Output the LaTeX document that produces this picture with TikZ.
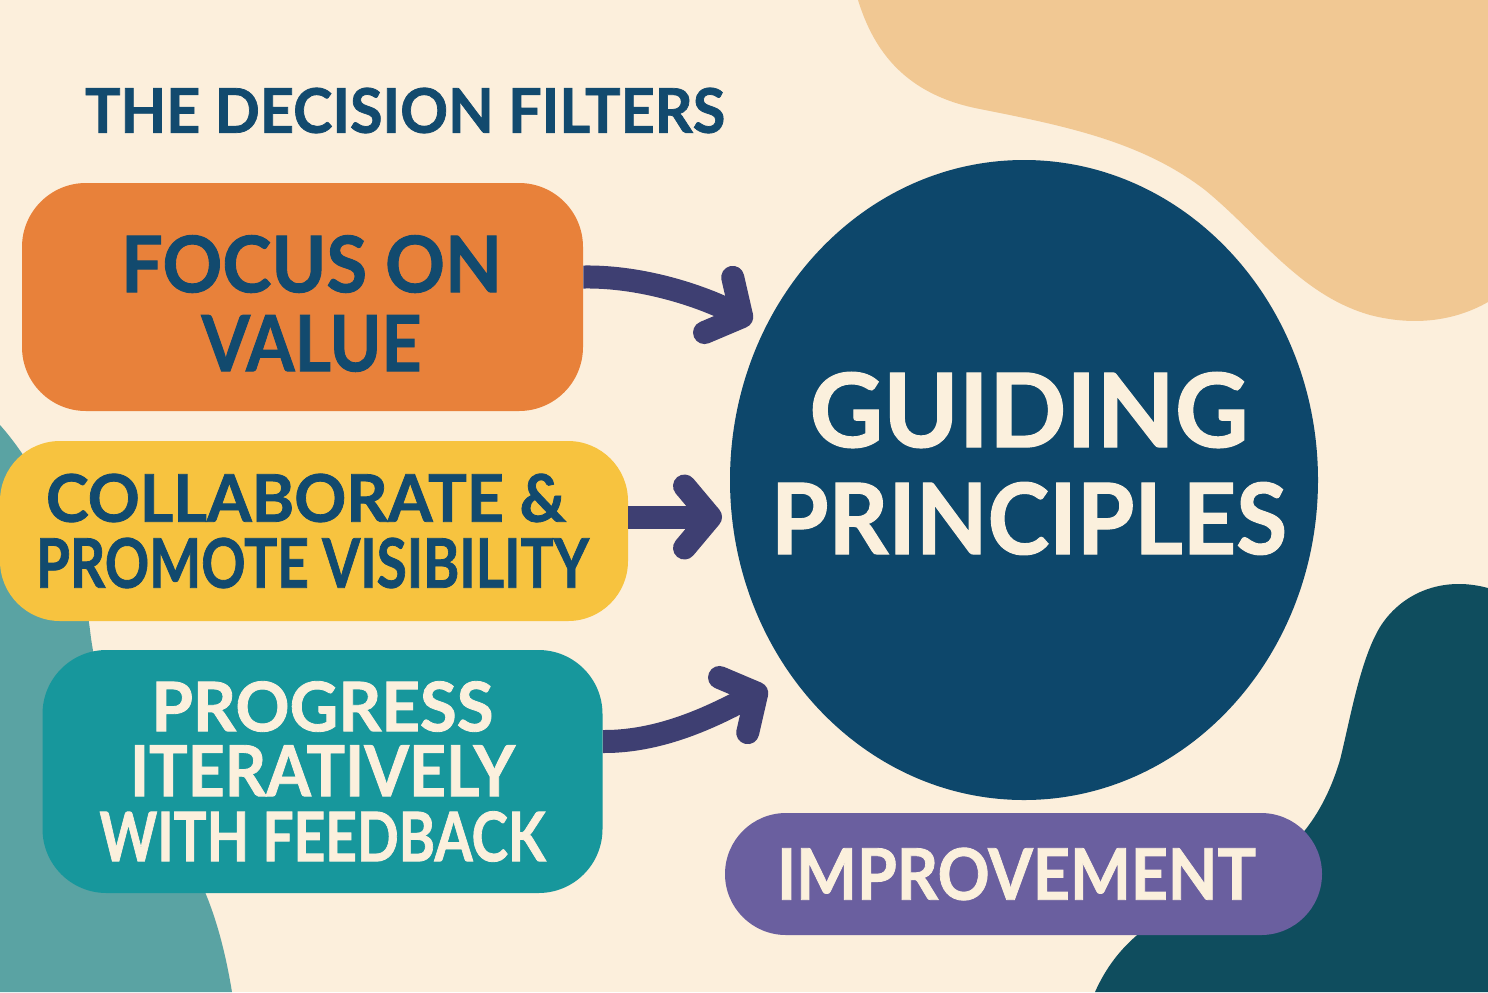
\documentclass[tikz,border=0pt]{standalone}
\usepackage{fontspec}
\setmainfont{Lato}[BoldFeatures={FakeBold=1.2}]
\usetikzlibrary{shapes.geometric,arrows.meta,calc}
\newlength\pxu \setlength\pxu{0.5pt}
\newcommand\fitln[3]{\resizebox{#1\pxu}{#2\pxu}{#3}}
\definecolor{bgc}{HTML}{FCEFDC}
\definecolor{tanc}{HTML}{F1C893}
\definecolor{dtealc}{HTML}{0F4D5E}
\definecolor{ltealc}{HTML}{5AA3A3}
\definecolor{orangec}{HTML}{E8813A}
\definecolor{yellowc}{HTML}{F7C33F}
\definecolor{tealc}{HTML}{17979C}
\definecolor{navyc}{HTML}{0D476B}
\definecolor{purplec}{HTML}{6A5F9F}
\definecolor{arrowc}{HTML}{3E3F72}
\definecolor{darktext}{HTML}{124A6E}
\definecolor{creamtext}{HTML}{FBF0DD}
\begin{document}
\begin{tikzpicture}[x=0.5pt,y=-0.5pt,
  filterbox/.style={rectangle, inner sep=0pt, align=center, font=\bfseries},
  arr/.style={draw=arrowc, line width=11.5pt,
    -{Straight Barb[length=13pt,width=31pt,round]}}]
\fill[bgc] (0,0) rectangle (1488,992);
\useasboundingbox (0,0) rectangle (1488,992);
% background blobs
\fill[tanc] (858,0) .. controls (872,45) and (900,92) .. (975,108)
  .. controls (1060,125) and (1140,140) .. (1205,190)
  .. controls (1260,235) and (1300,295) .. (1370,315)
  .. controls (1420,328) and (1460,318) .. (1488,302) -- (1488,0) -- cycle;
\fill[dtealc] (1488,588) .. controls (1440,575) and (1400,595) .. (1380,627)
  .. controls (1360,660) and (1350,720) .. (1340,760)
  .. controls (1325,810) and (1300,845) .. (1260,870)
  .. controls (1180,905) and (1125,925) .. (1095,992) -- (1488,992) -- cycle;
\fill[ltealc] (0,425) .. controls (40,470) and (80,550) .. (90,630)
  .. controls (100,720) and (150,800) .. (195,870)
  .. controls (215,910) and (225,950) .. (232,992) -- (0,992) -- cycle;
% title
\node[inner sep=0pt, text=darktext, font=\bfseries] (title) at (405,110.5)
  {\fitln{640}{45}{THE DECISION FILTERS}};
% filter boxes
\node[filterbox, fill=orangec, rounded corners=32pt, minimum width=280.5pt,
  minimum height=114pt, text=darktext,
  font=\bfseries\fontsize{20pt}{39.5pt}\selectfont] (fv) at (302.5,297)
  {\kern18\pxu\rule{0pt}{70\pxu}\fitln{381}{57}{FOCUS ON}\\
   \kern18\pxu\fitln{220}{56}{VALUE}};
\node[filterbox, fill=yellowc, rounded corners=30pt, minimum width=314pt,
  minimum height=90pt, text=darktext,
  font=\bfseries\fontsize{20pt}{33pt}\selectfont] (cv) at (314,531)
  {\fitln{520}{48}{COLLABORATE \&}\kern16\pxu\\
   \fitln{553}{50}{PROMOTE VISIBILITY}\kern3\pxu};
\node[filterbox, fill=tealc, rounded corners=32pt, minimum width=280pt,
  minimum height=121.5pt, text=creamtext,
  font=\bfseries\fontsize{20pt}{32.5pt}\selectfont] (pi) at (322.5,771.5)
  {\fitln{342}{50}{PROGRESS}\\
   \fitln{385}{51}{ITERATIVELY}\\
   \fitln{446}{50}{WITH FEEDBACK}};
% guiding principles
\node[ellipse, fill=navyc, inner sep=0pt, minimum width=294pt,
  minimum height=320pt] (gp) at (1024,480) {};
\node[inner sep=0pt, align=center, text=creamtext,
  font=\bfseries\fontsize{30pt}{53.5pt}\selectfont] (gpt)
  at ($(gp.center)+(5,-16.5)$)
  {\fitln{439}{75}{GUIDING}\\ \fitln{516}{72}{PRINCIPLES}};
% improvement
\node[filterbox, fill=purplec, rounded corners=30.5pt, minimum width=298.5pt,
  minimum height=61pt, text=creamtext] (im) at (1023.5,874)
  {\fitln{479}{52}{IMPROVEMENT}\kern14\pxu};
% arrows
\coordinate (t1) at (752,322);
\coordinate (t2) at (722,517);
\coordinate (t3) at (767,688);
\draw[arr] ($(fv.east)+(0,-20)$) .. controls (645,276) and (705,298) .. (t1);
\draw[arr] ($(cv.east)+(0,-14)$) -- (t2);
\draw[arr] ($(pi.east)+(0,-30)$) .. controls (665,742) and (720,712) .. (t3);
\end{tikzpicture}
\end{document}
